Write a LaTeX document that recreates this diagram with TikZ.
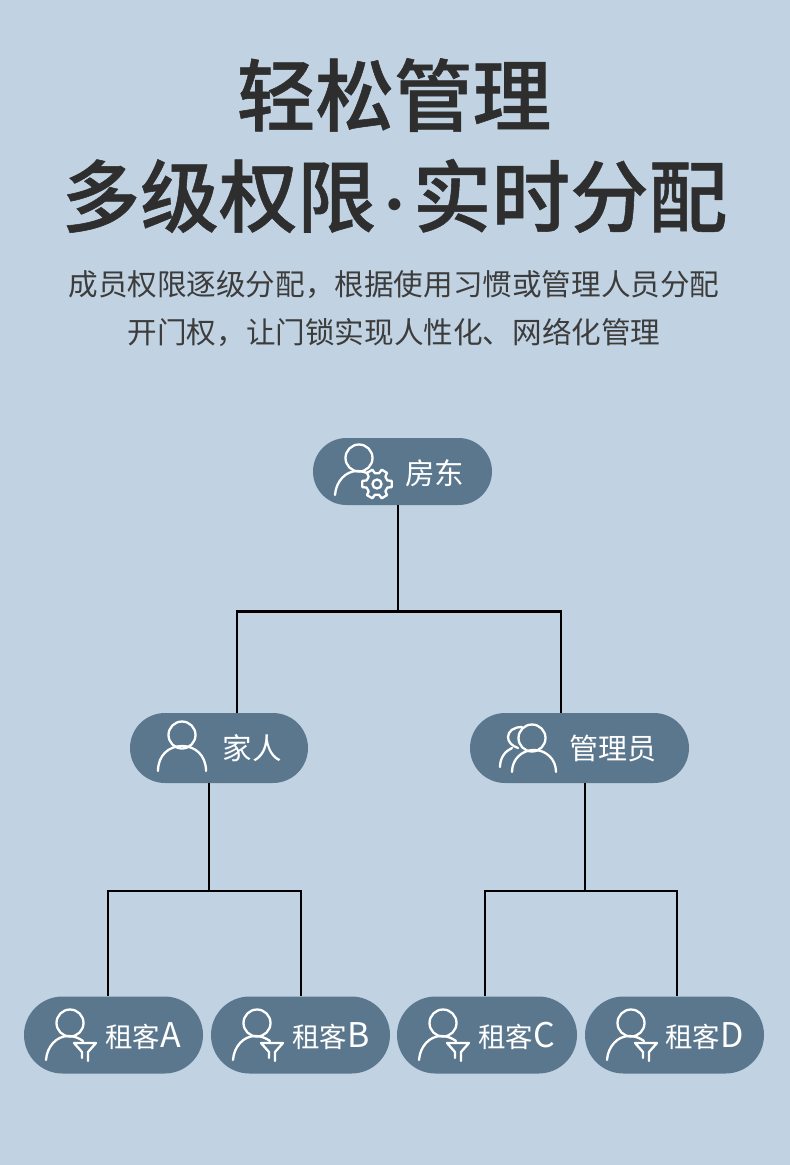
\documentclass[tikz,border=0pt]{standalone}
\usepackage{fontspec}
\setmainfont{Noto Sans CJK SC}
\newfontfamily\titlefont[FakeBold=0.7]{Noto Sans CJK SC Medium}
\newfontfamily\dotfont{Lato}
\newcommand{\tenantletter}[1]{{\fontsize{34}{34}\selectfont #1}}
\definecolor{bgblue}{HTML}{C1D3E2}
\definecolor{pillblue}{HTML}{5B778D}
\definecolor{inkgray}{HTML}{2E2E2E}
\definecolor{subgray}{HTML}{3C3C3C}
\tikzset{
  pill/.style={draw=none,fill=pillblue,rounded corners=#1,inner sep=0pt},
  pilltext/.style={text=white,font=\fontsize{#1}{#1}\selectfont,anchor=west,inner sep=0pt},
  titletext/.style={text=inkgray,font=\titlefont\fontsize{78.6}{79}\selectfont,inner sep=0pt},
  subtext/.style={text=subgray,font=\fontsize{29.6}{30}\selectfont,inner sep=0pt},
  wire/.style={draw=black,line width=2.9pt},
  iconline/.style={draw=white,line width=2.3pt,line cap=round,line join=round},
  pics/headshoulder/.style={code={
    \draw[iconline] (0,0) circle[radius=13.5pt];
    \draw[iconline] (-24,37) .. controls (-23,23) and (-13,13) .. (-2,13)
      .. controls (4,13) and (9,15) .. (13,18);
  }},
  pics/gearicon/.style={code={
    \draw[iconline,fill=pillblue] (-12:15pt)
      \foreach \a in {0,60,...,300} {
        -- (\a-12:15pt) -- (\a+12:15pt) -- (\a+19:11pt) -- (\a+41:11pt)
      } -- cycle;
    \draw[iconline] (0,0) circle[radius=4.5pt];
  }},
  pics/funnelicon/.style={code={
    \draw[iconline] (-3,15) -- (-3,9) -- (-11,0) -- (11,0) -- (3,9) -- (3,18);
  }},
  pics/fullperson/.style={code={
    \draw[iconline] (0,0) circle[radius=13.5pt];
    \draw[iconline] (-24,36) .. controls (-24,20) and (-13,11) .. (0,11)
      .. controls (13,11) and (24,20) .. (24,36);
  }}
}
\begin{document}
\begin{tikzpicture}[x=1pt,y=-1pt]
\useasboundingbox (0,0) rectangle (790,1165);
\fill[bgblue] (0,0) rectangle (790,1165);
% heading
\node[titletext] (titleone) at (394,95) {轻松管理};
\node[titletext] (titletwo) at (394.5,196) {多级权限\hspace{8pt}{\dotfont\fontsize{80}{80}\selectfont\raisebox{-2pt}{·}}\hspace{8pt}实时分配};
\node[subtext] (subone) at (394,285) {成员权限逐级分配，根据使用习惯或管理人员分配};
\node[subtext] (subtwo) at (394,332) {开门权，让门锁实现人性化、网络化管理};
% the pills
\node[pill=33.5pt,minimum width=179pt,minimum height=67pt] (landlord) at (402.5,471.5) {};
\node[pill=35pt,minimum width=178pt,minimum height=70pt] (family) at (219,748) {};
\node[pill=35pt,minimum width=219pt,minimum height=70pt] (admin) at (579.5,748) {};
\node[pill=38.5pt,minimum width=179pt,minimum height=77pt] (tenantA) at (113.5,1035) {};
\node[pill=38.5pt,minimum width=179pt,minimum height=77pt] (tenantB) at (300.5,1035) {};
\node[pill=38.5pt,minimum width=180pt,minimum height=77pt] (tenantC) at (487,1035) {};
\node[pill=38.5pt,minimum width=179pt,minimum height=77pt] (tenantD) at (674.5,1035) {};
% wires
\coordinate (busroot) at (398,611.5);
\coordinate (busleft) at (237,611.5);
\coordinate (busright) at (561,611.5);
\coordinate (busfamily) at (209,891);
\coordinate (busA) at (108,891);
\coordinate (busB) at (301,891);
\coordinate (busadmin) at (585,891);
\coordinate (busC) at (485,891);
\coordinate (busD) at (677,891);
\draw[wire] (landlord.south -| busroot) -- (busroot);
\draw[wire] (family.north -| busleft) -- (busleft) -- (busright) -- (admin.north -| busright);
\draw[wire] (family.south -| busfamily) -- (busfamily);
\draw[wire] (tenantA.north -| busA) -- (busA) -- (busB) -- (tenantB.north -| busB);
\draw[wire] (admin.south -| busadmin) -- (busadmin);
\draw[wire] (tenantC.north -| busC) -- (busC) -- (busD) -- (tenantD.north -| busD);
% labels
\node[pilltext=29.5] (landlordtext) at (405,473) {房东};
\node[pilltext=29.5] (familytext) at (222.5,748) {家人};
\node[pilltext=29] (admintext) at (569,748) {管理员};
\node[pilltext=27.5] (tenantAtext) at (105,1036) {租客\tenantletter{A}};
\node[pilltext=27.5] (tenantBtext) at (292,1036) {租客\tenantletter{B}};
\node[pilltext=27.5] (tenantCtext) at (478,1036) {租客\tenantletter{C}};
\node[pilltext=27.5] (tenantDtext) at (665,1036) {租客\tenantletter{D}};
% icons
\pic at (359,458) {headshoulder};
\pic at (377,484) {gearicon};
\pic at (182,735) {fullperson};
\draw[iconline] (522,727) .. controls (514,727) and (508,731) .. (508,737)
  .. controls (508,742) and (512,746) .. (518,748);
\draw[iconline] (500,767) .. controls (500,758) and (505,751) .. (512,748);
\draw[iconline] (532,738) circle[radius=13.5pt];
\draw[iconline] (512,772) .. controls (512,759) and (522,750) .. (534,750)
  .. controls (546,750) and (556,759) .. (556,772);
\pic at (70,1023) {headshoulder};
\pic at (85,1043) {funnelicon};
\pic at (257,1023) {headshoulder};
\pic at (272,1043) {funnelicon};
\pic at (443,1023) {headshoulder};
\pic at (458,1043) {funnelicon};
\pic at (631,1023) {headshoulder};
\pic at (646,1043) {funnelicon};
\end{tikzpicture}
\end{document}
